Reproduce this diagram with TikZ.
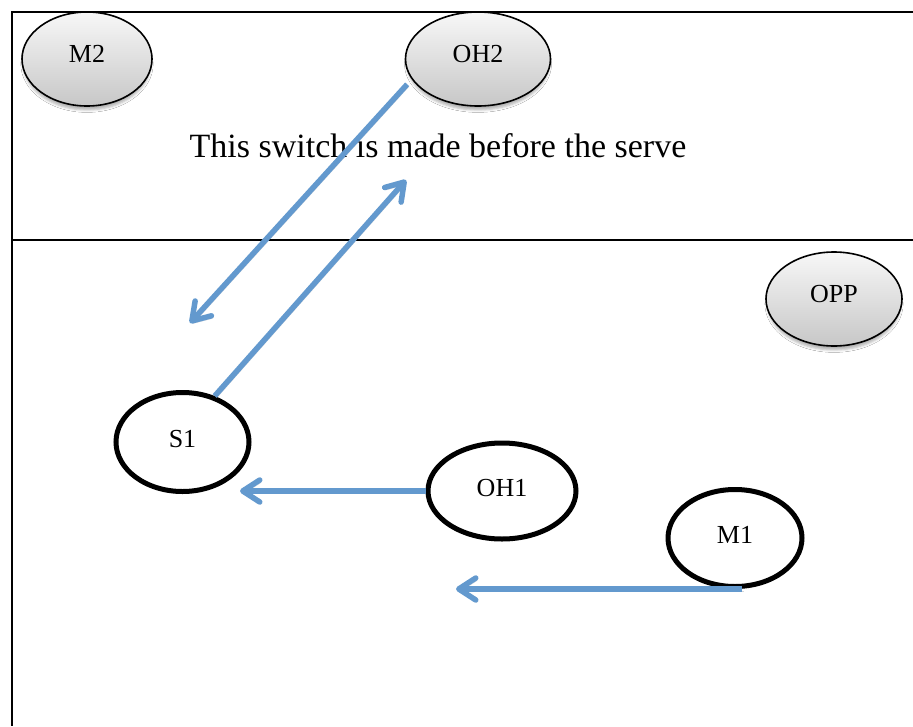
\documentclass[tikz,border=0pt]{standalone}
\usepackage{fontspec}
\setmainfont{Liberation Serif}
\usetikzlibrary{shapes.geometric,arrows.meta,shadows.blur}
\definecolor{arrowblue}{RGB}{99,153,206}
\tikzset{
  grayell/.style={ellipse, draw=black, line width=1.6pt, inner sep=0pt,
    top color=black!3, bottom color=black!22,
    blur shadow={shadow xshift=0pt, shadow yshift=-5pt, shadow blur radius=2.5pt, shadow opacity=30, shadow scale=0.98},
    font=\fontsize{26}{30}\selectfont, text depth=10pt},
  whiteell/.style={ellipse, draw=black, line width=5pt, fill=white, inner sep=0pt,
    font=\fontsize{26}{30}\selectfont, text depth=6pt},
  bluearrow/.style={draw=arrowblue, line width=5.5pt,
    -{Straight Barb[length=17pt, width=22pt, line cap=round, line join=round]},
    preaction={draw=black, opacity=0.15, transform canvas={shift={(1.5pt,-2.5pt)}}}},
  frameline/.style={draw=black, line width=2.3pt}
}
\begin{document}
\begin{tikzpicture}[x=1pt, y=-1pt]
\useasboundingbox (0,0) rectangle (913,726);
\fill[white] (0,0) rectangle (913,726);
% frame
\coordinate (ftl) at (12,12);
\coordinate (ftr) at (913,12);
\coordinate (fbl) at (12,726);
\coordinate (mll) at (12,240);
\coordinate (mlr) at (913,240);
\draw[frameline] (ftr) -- (ftl) -- (fbl);
\draw[frameline, line width=2pt] (mll) -- (mlr);
% top ellipses
\node[grayell, minimum width=130pt, minimum height=94pt] (M2) at (87,59) {M2};
\node[grayell, minimum width=145pt, minimum height=94pt] (OH2) at (478,59) {OH2};
\node[grayell, minimum width=136pt, minimum height=94pt] (OPP) at (834,299) {OPP};
% caption
\node[anchor=base, inner sep=0pt, font=\fontsize{34}{40}\selectfont] (cap) at (438,157) {This switch is made before the serve};
% bottom ellipses
\node[whiteell, minimum width=133pt, minimum height=99pt] (S1) at (182.5,442) {S1};
\node[whiteell, minimum width=148pt, minimum height=96pt] (OH1) at (502,491) {OH1};
\node[whiteell, minimum width=134pt, minimum height=97pt] (M1) at (735,538) {M1};
% arrow end points
\coordinate (t1) at (190,323);
\coordinate (t2) at (406,180);
\coordinate (t3) at (240,491);
\coordinate (t4) at (456,587);
% arrows
\draw[bluearrow] ([xshift=-6pt,yshift=-3pt]OH2.199) -- (t1);
\draw[bluearrow] (S1.55) -- (t2);
\draw[bluearrow] (OH1.west) -- (t3 |- OH1.west);
\draw[bluearrow] ([xshift=7pt]M1.south) -- (t4 |- M1.south);
\end{tikzpicture}
\end{document}
